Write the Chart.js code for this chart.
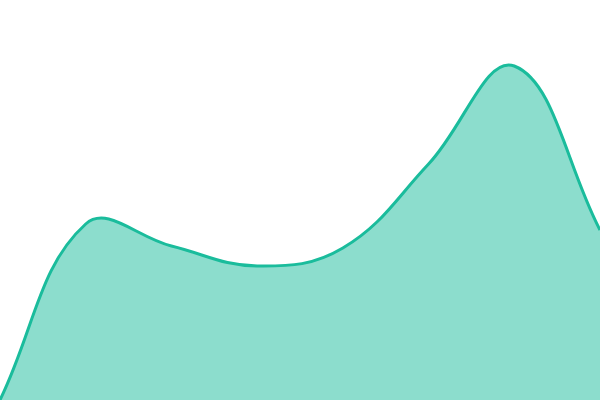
<!DOCTYPE html>
<html><head><meta charset="utf-8">
<script src="https://cdn.jsdelivr.net/npm/chart.js@4"></script>
<style>html,body{margin:0;padding:0;background:#fff}#w{width:600px;height:400px}</style>
</head><body><div id="w"><canvas id="c"></canvas></div>
<script>
const labels = ["1","2","3","4","5","6","7","8"];
const values = [0, 44, 38.5, 33.5, 38, 59, 83.5, 42.5];
new Chart(document.getElementById('c'), {
  type: 'line',
  data: { labels, datasets: [{ data: values, fill: true, backgroundColor: 'rgba(26,188,156,0.5)', borderColor: '#1abc9c', borderWidth: 3, tension: 0.4, pointRadius: 0 }] },
  options: {
    responsive: true, maintainAspectRatio: false, animation: false,
    layout: { padding: 0 },
    plugins: { legend: { display: false }, tooltip: { enabled: false } },
    scales: { x: { display: false }, y: { display: false, min: 0, max: 100 } }
  }
});
</script></body></html>
